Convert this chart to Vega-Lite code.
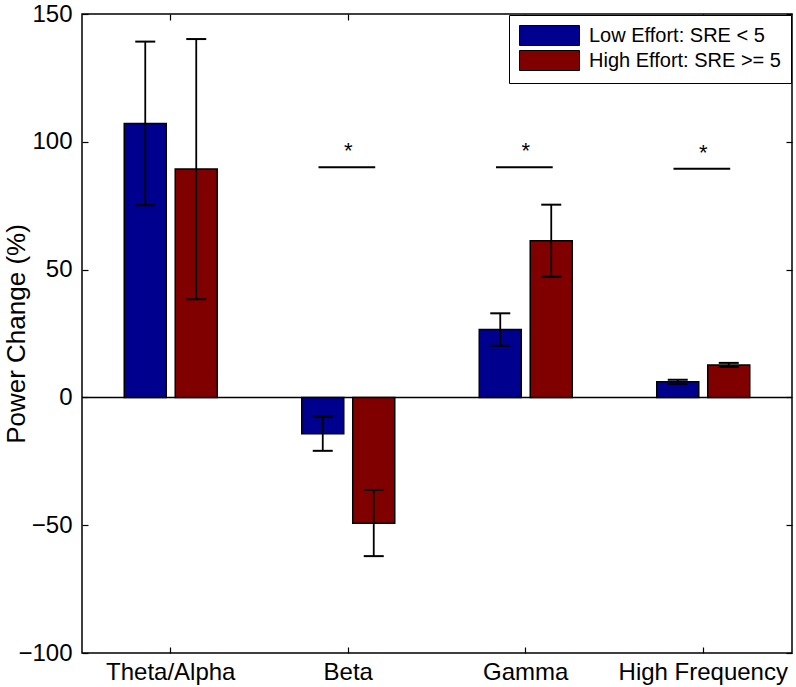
{
  "$schema": "https://vega.github.io/schema/vega-lite/v6.json",
  "width": 710,
  "height": 639,
  "autosize": "none",
  "padding": {"left": 82, "top": 14, "right": 4, "bottom": 34},
  "background": "white",
  "config": {
    "view": {"stroke": "black", "strokeWidth": 1.5},
    "axis": {
      "domain": false, "grid": false,
      "labelFont": "Liberation Sans", "labelFontSize": 24, "labelColor": "black",
      "tickColor": "black", "tickWidth": 1.2, "tickSize": -6,
      "titleFont": "Liberation Sans", "titleFontSize": 26, "titleFontWeight": "normal", "titleColor": "black"
    },
    "legend": {
      "orient": "top-right", "offset": 1,
      "labelFont": "Liberation Sans", "labelFontSize": 20, "labelColor": "black", "labelLimit": 400,
      "symbolSize": 400, "symbolStrokeColor": "black", "symbolStrokeWidth": 1, "symbolOpacity": 1,
      "fillColor": "white", "strokeColor": "black", "padding": 10, "rowPadding": 0, "labelOffset": 49
    }
  },
  "datasets": {
    "bars": [
      {"band": "Theta/Alpha", "group": "Low Effort: SRE < 5", "value": 107.2, "lo": 75.2, "hi": 139.2},
      {"band": "Theta/Alpha", "group": "High Effort: SRE >= 5", "value": 89.4, "lo": 38.4, "hi": 140.2},
      {"band": "Beta", "group": "Low Effort: SRE < 5", "value": -14.2, "lo": -20.9, "hi": -7.5},
      {"band": "Beta", "group": "High Effort: SRE >= 5", "value": -49.2, "lo": -62.1, "hi": -36.2},
      {"band": "Gamma", "group": "Low Effort: SRE < 5", "value": 26.6, "lo": 20.2, "hi": 32.9},
      {"band": "Gamma", "group": "High Effort: SRE >= 5", "value": 61.3, "lo": 47.2, "hi": 75.4},
      {"band": "High Frequency", "group": "Low Effort: SRE < 5", "value": 6.1, "lo": 5.3, "hi": 6.9},
      {"band": "High Frequency", "group": "High Effort: SRE >= 5", "value": 12.7, "lo": 11.9, "hi": 13.5}
    ],
    "sig": [
      {"band": "Beta", "level": 90, "star": "*"},
      {"band": "Gamma", "level": 90, "star": "*"},
      {"band": "High Frequency", "level": 89.5, "star": "*"}
    ]
  },
  "layer": [
    {
      "data": {"values": [{"z": 0}]},
      "mark": {"type": "rule", "color": "black", "strokeWidth": 1.5},
      "encoding": {
        "y": {"field": "z", "type": "quantitative", "axis": null}
      }
    },
    {
      "data": {"name": "bars"},
      "mark": {"type": "bar", "stroke": "black", "strokeWidth": 1.5, "opacity": 1},
      "encoding": {
        "x": {
          "field": "band", "type": "nominal",
          "sort": ["Theta/Alpha", "Beta", "Gamma", "High Frequency"],
          "scale": {"domain": ["Theta/Alpha", "Beta", "Gamma", "High Frequency"], "paddingInner": 0.476, "paddingOuter": 0.238},
          "axis": {"orient": "bottom", "title": null, "labelAngle": 0, "labelPadding": 13}
        },
        "xOffset": {
          "field": "group", "type": "nominal",
          "sort": ["Low Effort: SRE < 5", "High Effort: SRE >= 5"],
          "scale": {"paddingInner": 0.176, "paddingOuter": 0}
        },
        "y": {
          "field": "value", "type": "quantitative",
          "scale": {"domain": [-100, 150], "nice": false, "zero": false},
          "axis": {"orient": "left", "title": "Power Change (%)", "values": [-100, -50, 0, 50, 100, 150], "labelPadding": 16, "titlePadding": -12}
        },
        "color": {
          "field": "group", "type": "nominal",
          "scale": {"domain": ["Low Effort: SRE < 5", "High Effort: SRE >= 5"], "range": ["#00008F", "#800000"]},
          "legend": {"title": null, "symbolType": "M-1,-1H5V1H-1Z"}
        }
      }
    },
    {
      "data": {"name": "bars"},
      "mark": {"type": "rule", "color": "black", "strokeWidth": 1.8},
      "encoding": {
        "x": {"field": "band", "type": "nominal", "axis": null},
        "xOffset": {"field": "group", "type": "nominal", "sort": ["Low Effort: SRE < 5", "High Effort: SRE >= 5"]},
        "y": {"field": "lo", "type": "quantitative", "axis": null},
        "y2": {"field": "hi"}
      }
    },
    {
      "data": {"name": "bars"},
      "mark": {"type": "tick", "color": "black", "size": 20, "thickness": 2, "orient": "horizontal", "opacity": 1},
      "encoding": {
        "x": {"field": "band", "type": "nominal", "axis": null},
        "xOffset": {"field": "group", "type": "nominal", "sort": ["Low Effort: SRE < 5", "High Effort: SRE >= 5"]},
        "y": {"field": "lo", "type": "quantitative", "axis": null}
      }
    },
    {
      "data": {"name": "bars"},
      "mark": {"type": "tick", "color": "black", "size": 20, "thickness": 2, "orient": "horizontal", "opacity": 1},
      "encoding": {
        "x": {"field": "band", "type": "nominal", "axis": null},
        "xOffset": {"field": "group", "type": "nominal", "sort": ["Low Effort: SRE < 5", "High Effort: SRE >= 5"]},
        "y": {"field": "hi", "type": "quantitative", "axis": null}
      }
    },
    {
      "data": {"name": "sig"},
      "mark": {"type": "rule", "color": "black", "strokeWidth": 2},
      "encoding": {
        "x": {"field": "band", "type": "nominal", "bandPosition": 0.18, "axis": {"orient": "top", "labels": false, "title": null}},
        "x2": {"field": "band", "bandPosition": 0.79},
        "y": {"field": "level", "type": "quantitative", "axis": {"orient": "right", "labels": false, "title": null, "values": [-100, -50, 0, 50, 100, 150]}}
      }
    },
    {
      "data": {"name": "sig"},
      "mark": {"type": "text", "font": "Liberation Sans", "fontSize": 22, "baseline": "alphabetic", "dy": -9, "color": "black"},
      "encoding": {
        "x": {"field": "band", "type": "nominal", "axis": null},
        "y": {"field": "level", "type": "quantitative", "axis": null},
        "text": {"field": "star"}
      }
    }
  ],
  "resolve": {"axis": {"x": "independent", "y": "independent"}}
}
